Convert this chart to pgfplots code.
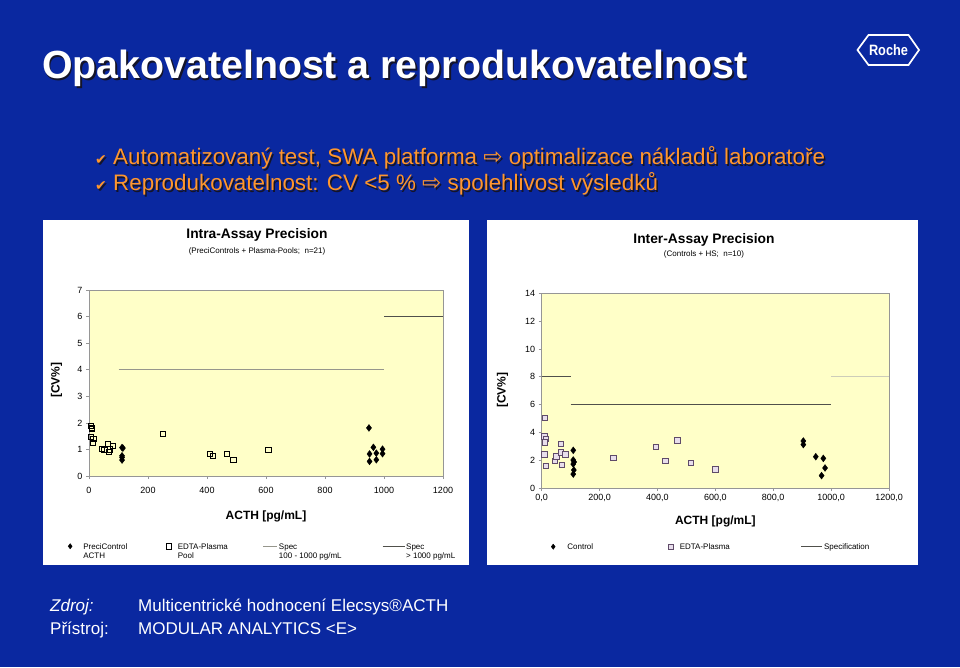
\documentclass[border=0pt]{standalone}
\usepackage{pgfplots}
\pgfplotsset{compat=1.18}
\usepackage{fontspec}
\setmainfont{Liberation Sans}
\newfontfamily\djv{DejaVu Sans}
\definecolor{slideblue}{RGB}{10,40,160}
\definecolor{bulletorange}{RGB}{255,150,45}
\definecolor{plotbg}{RGB}{255,255,200}
\definecolor{axgray}{RGB}{150,150,150}
\definecolor{specA}{RGB}{150,150,140}
\definecolor{specB}{RGB}{80,80,75}
\definecolor{specL}{RGB}{205,205,185}
\definecolor{sqpurple}{RGB}{95,75,105}
\definecolor{sqfill}{RGB}{232,222,236}
\definecolor{shadowc}{RGB}{20,20,40}
\newcommand{\fs}[2]{\fontsize{#1}{#2}\selectfont}
\newcommand{\shadowtext}[2]{\makebox[0pt][l]{\hspace*{#1}\raisebox{-#1}{\color{shadowc}#2}}#2}
\pgfplotsset{
  slideaxis/.style={
    scale only axis,
    axis background/.style={fill=plotbg},
    axis line style={draw=axgray, line width=0.8pt},
    tick style={draw=axgray, line width=0.6pt},
    tick align=outside,
    major tick length=3pt,
    xtick pos=bottom, ytick pos=left,
    tick label style={font=\fs{9}{10}, text=black},
    /pgf/number format/assume math mode=true,
    /pgf/number format/1000 sep={},
    label style={font=\bfseries\fs{12}{14}},
    clip=false,
    legend columns=4,
    legend style={draw=none, fill=none, inner sep=0pt, outer sep=0pt,
      font=\fs{8}{9.5}, cells={anchor=base west},
      nodes={inner sep=0pt, text depth=0pt},
      /tikz/column sep=0pt},
  },
  diamimg/.style={legend image code/.code={\draw[mark repeat=2,mark phase=2,##1,mark size=2.6pt] plot coordinates {(0pt,2.8pt)(3.5pt,2.8pt)(7pt,2.8pt)}; \path (0pt,0pt) (#1,0pt);}},
  sqimg/.style={legend image code/.code={\draw[mark repeat=2,mark phase=2,##1] plot coordinates {(0pt,2.8pt)(3.5pt,2.8pt)(7pt,2.8pt)}; \path (0pt,0pt) (#1,0pt);}},
  lineimg/.style 2 args={legend image code/.code={\draw[##1] (0pt,2.8pt) -- (#1,2.8pt); \path (0pt,0pt) (#2,0pt);}},
}
\begin{document}
\begin{tikzpicture}
\useasboundingbox (0pt,0pt) rectangle (960pt,667pt);
\fill[slideblue] (0pt,0pt) rectangle (960pt,667pt);
% title
\node[anchor=base west, inner sep=0pt, text=white] at (42pt,588pt) {\fs{39.3}{44}\bfseries\shadowtext{1.5pt}{Opakovatelnost a reprodukovatelnost}};
% Roche logo
\draw[white, line width=1.7pt, line join=miter] (857.5pt,617pt) -- (868.5pt,632pt) -- (908.5pt,632pt) -- (919pt,617pt) -- (908.5pt,602pt) -- (868.5pt,602pt) -- cycle;
\node[anchor=base, inner sep=0pt, text=white] at (888.5pt,611pt) {\scalebox{0.85}[1]{\fs{15}{18}\bfseries Roche}};
% bullets
\node[anchor=base west, inner sep=0pt, text=bulletorange] at (95pt,502pt) {\fs{22.4}{26}\shadowtext{1.5pt}{\makebox[18pt][l]{\djv\fs{14}{16}✔}Automatizovaný test, SWA platforma {\djv\fs{23}{24}⇨} optimalizace nákladů laboratoře}};
\node[anchor=base west, inner sep=0pt, text=bulletorange] at (95pt,476pt) {\fs{22.4}{26}\shadowtext{1.5pt}{\makebox[18pt][l]{\djv\fs{14}{16}✔}Reprodukovatelnost: CV <5 \% {\djv\fs{23}{24}⇨} spolehlivost výsledků}};
% panels
\fill[white] (43pt,102pt) rectangle (469pt,447pt);
\fill[white] (487pt,102pt) rectangle (918pt,447pt);
% chart titles
\node[anchor=base, inner sep=0pt] at (257pt,428pt) {\fs{13.8}{16}\bfseries Intra-Assay Precision};
\node[anchor=base, inner sep=0pt] at (257pt,413.5pt) {\fs{8}{10}(PreciControls + Plasma-Pools;\ \ n=21)};
\node[anchor=base, inner sep=0pt] at (704pt,423.5pt) {\fs{13.8}{16}\bfseries Inter-Assay Precision};
\node[anchor=base, inner sep=0pt] at (704pt,410pt) {\fs{8}{10}(Controls + HS;\ \ n=10)};
% left chart
\begin{axis}[slideaxis, at={(89pt,191pt)}, anchor=south west,
  width=354pt, height=186pt,
  xmin=0, xmax=1200, ymin=0, ymax=7,
  xtick={0,200,...,1200}, ytick={0,1,...,7},
  xticklabel style={yshift=-4.5pt},
  xlabel={ACTH [pg/mL]}, ylabel={[CV\%]},
  xlabel style={at={(axis description cs:0.5,-0.2312)}, anchor=base},
  ylabel style={at={(axis description cs:-0.0918,0.516)}, anchor=center},
  legend style={at={(axis description cs:-0.0636,-0.357)}, anchor=north west}]
\addplot[only marks, mark=diamond*, mark size=3.4pt, black, diamimg=16.5pt] coordinates {
 (112,1.07) (115,1.05) (112,0.76) (112,0.70) (112,0.60)
 (949,1.81) (964,1.08) (951,0.83) (974,0.86) (995,1.01) (995,0.84) (951,0.55) (974,0.61)};
\addlegendentry{\begin{tabular}[t]{@{}p{81.5pt}@{}}PreciControl\\ACTH\end{tabular}}
\addplot[only marks, mark=square, mark size=2.6pt, black, mark options={line width=0.7pt}, sqimg=12.5pt] coordinates {
 (6,1.88) (9,1.80) (9,1.76) (7,1.48) (15,1.40) (12,1.24) (44,1.03) (52,0.97) (64,1.22) (66,0.92) (72,1.00) (81,1.14)
 (249,1.58) (411,0.84) (421,0.77) (468,0.82) (489,0.62) (608,0.98)};
\addlegendentry{\begin{tabular}[t]{@{}p{85pt}@{}}EDTA-Plasma\\Pool\end{tabular}}
\addplot[specA, line width=1.2pt, lineimg={14pt}{15pt}] coordinates {(100,4) (1000,4)};
\addlegendentry{\begin{tabular}[t]{@{}p{103pt}@{}}Spec\\100 - 1000 pg/mL\end{tabular}}
\addplot[specB, line width=1.2pt, lineimg={22pt}{23pt}] coordinates {(1000,6) (1200,6)};
\addlegendentry{\begin{tabular}[t]{@{}p{60pt}@{}}Spec\\> 1000 pg/mL\end{tabular}}
\end{axis}
% right chart
\begin{axis}[slideaxis, at={(541.7pt,179pt)}, anchor=south west,
  width=347.3pt, height=194.7pt,
  xmin=0, xmax=1200, ymin=0, ymax=14,
  xtick={0,200,...,1200}, ytick={0,2,...,14},
  xticklabel={\pgfmathprintnumber[fixed,fixed zerofill,precision=1,use comma,1000 sep={}]{\tick}},
  xlabel={ACTH [pg/mL]}, ylabel={[CV\%]},
  xlabel style={at={(axis description cs:0.5,-0.19)}, anchor=base},
  ylabel style={at={(axis description cs:-0.1129,0.503)}, anchor=center},
  legend style={at={(axis description cs:0.0225,-0.2817)}, anchor=north west}]
\addplot[only marks, mark=diamond*, mark size=3.4pt, black, diamimg=17.5pt] coordinates {
 (109,2.71) (109,2.01) (112,1.87) (109,1.72) (111,1.29) (109,1.00)
 (904,3.38) (904,3.12) (947,2.25) (973,2.13) (979,1.44) (967,0.89)};
\addlegendentry{\begin{tabular}[t]{@{}p{99.5pt}@{}}Control\end{tabular}}
\addplot[only marks, mark=square*, mark size=2.7pt, draw=sqpurple, fill=sqfill, mark options={line width=0.8pt, draw=sqpurple, fill=sqfill}, sqimg=12.5pt] coordinates {
 (11.5,5.04) (9,3.72) (14,3.55) (11.5,3.29) (9,2.42) (14,1.58) (45,1.97) (51,2.28) (67,3.19) (67,2.57) (82,2.42) (69,1.68)
 (248,2.18) (395,2.95) (427,1.97) (469,3.41) (516,1.80) (600,1.34)};
\addlegendentry{\begin{tabular}[t]{@{}p{121pt}@{}}EDTA-Plasma\end{tabular}}
\addplot[specB, line width=1.2pt, lineimg={21pt}{22pt}] coordinates {(0,8) (100,8)};
\addlegendentry{\begin{tabular}[t]{@{}l@{}}Specification\end{tabular}}
\addplot[specB, line width=1.2pt, forget plot] coordinates {(100,6) (1000,6)};
\addplot[specL, line width=1.2pt, forget plot] coordinates {(1000,8) (1200,8)};
\end{axis}
% footer
\node[anchor=base west, inner sep=0pt, text=white] at (50pt,56pt) {\fs{17}{20}\itshape Zdroj:};
\node[anchor=base west, inner sep=0pt, text=white] at (138pt,56pt) {\fs{17}{20}Multicentrické hodnocení Elecsys®ACTH};
\node[anchor=base west, inner sep=0pt, text=white] at (50pt,33pt) {\fs{17}{20}Přístroj:};
\node[anchor=base west, inner sep=0pt, text=white] at (138pt,33pt) {\fs{17}{20}MODULAR ANALYTICS <E>};
\end{tikzpicture}
\end{document}
